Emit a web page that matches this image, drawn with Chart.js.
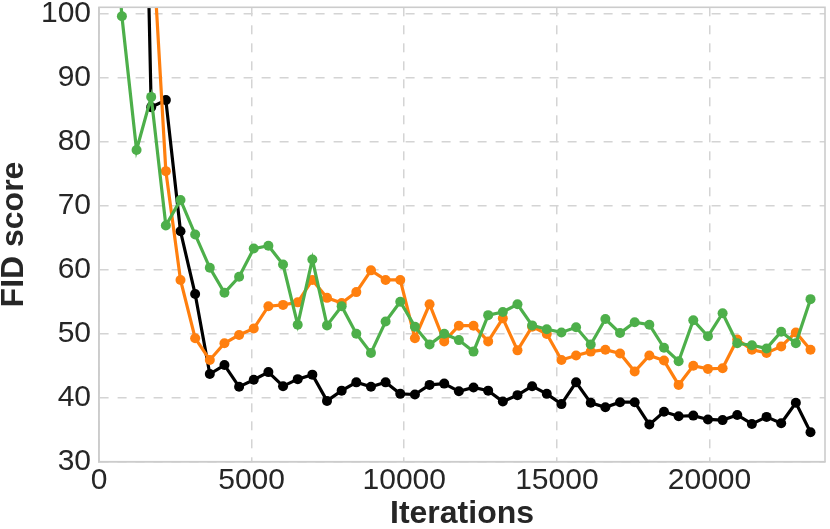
<!DOCTYPE html>
<html>
<head>
<meta charset="utf-8">
<script src="https://cdn.jsdelivr.net/npm/chart.js@4.4.1/dist/chart.umd.min.js"></script>
<style>
  html, body { margin: 0; padding: 0; background: #ffffff; }
  #wrap { width: 830px; height: 529px; }
</style>
</head>
<body>
<div id="wrap"><canvas id="c" width="830" height="529"></canvas></div>
<script>
// Iterations (x values)
const iterations = [270, 750, 1230, 1710, 2190, 2670, 3150, 3630, 4110, 4590, 5070, 5550, 6030, 6510, 6990, 7470, 7950, 8430, 8910, 9390, 9870, 10350, 10830, 11310, 11790, 12270, 12750, 13230, 13710, 14190, 14670, 15150, 15630, 16110, 16590, 17070, 17550, 18030, 18510, 18990, 19470, 19950, 20430, 20910, 21390, 21870, 22350, 22830, 23310];

// FID scores per series
const greenSeries = [130, 99.6, 78.7, 87.0, 66.9, 70.9, 65.5, 60.3, 56.4, 58.9, 63.3, 63.75, 60.8, 51.4, 61.6, 51.3, 54.3, 50.0, 47.0, 51.9, 55.0, 51.1, 48.3, 50.0, 49.0, 47.2, 52.9, 53.4, 54.6, 51.3, 50.7, 50.2, 51.0, 48.3, 52.3, 50.1, 51.8, 51.4, 47.8, 45.7, 52.1, 49.6, 53.2, 48.5, 48.2, 47.7, 50.3, 48.5, 55.4];
const orangeSeries = [260, 200, 160, 115, 75.4, 58.4, 49.3, 45.9, 48.5, 49.8, 50.8, 54.3, 54.5, 54.9, 58.4, 55.6, 54.8, 56.5, 59.9, 58.4, 58.4, 49.3, 54.6, 48.8, 51.25, 51.25, 48.8, 52.4, 47.4, 51.1, 49.95, 45.9, 46.6, 47.2, 47.5, 46.9, 44.1, 46.6, 45.8, 42.0, 45.0, 44.5, 44.6, 49.1, 47.5, 47.0, 48.0, 50.2, 47.5];
const blackSeries = [300, 250, 190, 85.4, 86.5, 66.0, 56.2, 43.7, 45.1, 41.7, 42.8, 44.0, 41.8, 42.9, 43.6, 39.5, 41.1, 42.4, 41.7, 42.4, 40.6, 40.5, 42.0, 42.2, 41.0, 41.6, 41.1, 39.4, 40.4, 41.8, 40.6, 39.0, 42.4, 39.2, 38.5, 39.3, 39.3, 35.8, 37.8, 37.1, 37.2, 36.6, 36.5, 37.3, 35.9, 37.0, 36.0, 39.2, 34.6];

// Axis ticks
const xTicks = [0, 5000, 10000, 15000, 20000];
const yTicks = [30, 40, 50, 60, 70, 80, 90, 100];
const xRange = [0, 23785];
const yRange = [30, 101];

const FONT = "'Liberation Sans', Arial, Helvetica, sans-serif";
const TXT = '#262626';
const GRID = '#d4d4d4';
const SPINE = '#cccccc';

function pts(ys) { return ys.map((y, i) => ({ x: iterations[i], y: y })); }

function ds(label, ys, color) {
  return {
    label: label,
    data: pts(ys),
    borderColor: color,
    backgroundColor: color,
    pointBackgroundColor: color,
    pointBorderColor: color,
    borderWidth: 3.2,
    pointRadius: 5,
    pointBorderWidth: 0,
    pointHoverRadius: 5,
    tension: 0,
    clip: 0
  };
}

const framePlugin = {
  id: 'frame',
  afterDraw(chart) {
    const a = chart.chartArea;
    const ctx = chart.ctx;
    ctx.save();
    ctx.strokeStyle = SPINE;
    ctx.lineWidth = 1.6;
    ctx.strokeRect(a.left, a.top, a.right - a.left, a.bottom - a.top);
    ctx.restore();
  }
};

new Chart(document.getElementById('c'), {
  type: 'line',
  data: {
    datasets: [
      ds('green', greenSeries, '#4daf4a'),
      ds('orange', orangeSeries, '#ff7f0e'),
      ds('black', blackSeries, '#000000')
    ]
  },
  options: {
    responsive: false,
    animation: false,
    events: [],
    layout: { padding: { top: 7.3, right: 2, left: 0, bottom: 0 } },
    plugins: { legend: { display: false }, tooltip: { enabled: false } },
    scales: {
      x: {
        type: 'linear',
        min: xRange[0],
        max: xRange[1],
        afterBuildTicks(scale) { scale.ticks = xTicks.map(v => ({ value: v })); },
        afterFit(scale) { scale.height = 67.3; scale.paddingLeft = 0; scale.paddingRight = 0; },
        ticks: {
          font: { family: FONT, size: 30 },
          color: TXT,
          padding: 1,
          maxRotation: 0,
          autoSkip: false,
          callback: v => String(v)
        },
        grid: { color: GRID, lineWidth: 1.5, drawTicks: false, tickLength: 0 },
        border: { display: true, color: SPINE, width: 1.6, dash: [9, 9] },
        title: {
          display: true,
          text: 'Iterations',
          color: TXT,
          font: { family: FONT, size: 32, weight: 'bold', lineHeight: 0.9 },
          padding: 0
        }
      },
      y: {
        type: 'linear',
        min: yRange[0],
        max: yRange[1],
        afterBuildTicks(scale) { scale.ticks = yTicks.map(v => ({ value: v })); },
        afterFit(scale) { scale.width = 99; scale.paddingTop = 0; scale.paddingBottom = 0; },
        ticks: {
          font: { family: FONT, size: 30 },
          color: TXT,
          padding: 8,
          autoSkip: false,
          callback: v => String(v)
        },
        grid: { color: GRID, lineWidth: 1.5, drawTicks: false, tickLength: 0 },
        border: { display: true, color: SPINE, width: 1.6, dash: [9, 9] },
        title: {
          display: true,
          text: 'FID score',
          color: TXT,
          font: { family: FONT, size: 32, weight: 'bold', lineHeight: 0.9 },
          padding: 0
        }
      }
    }
  },
  plugins: [framePlugin]
});
</script>
</body>
</html>
